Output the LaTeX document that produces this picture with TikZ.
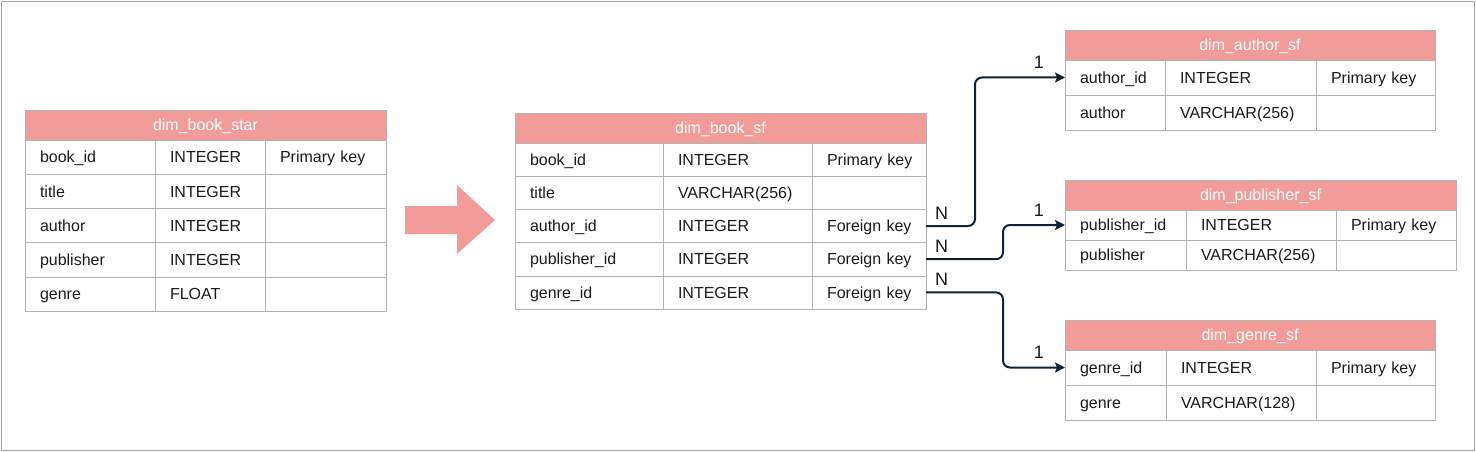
\documentclass[tikz,border=0pt]{standalone}
\usepackage{fontspec}
\setmainfont{Liberation Sans}
\usetikzlibrary{arrows.meta,positioning}
\definecolor{hdrpink}{HTML}{F19C99}
\definecolor{gridgray}{HTML}{B3B3B3}
\definecolor{linknavy}{HTML}{0F2236}
\definecolor{framegray}{HTML}{A6A6A6}
\definecolor{celltext}{HTML}{1A1A1A}

\tikzset{
	tblhead/.style={fill=hdrpink, draw=gridgray, text=white, anchor=north west,
		minimum height=30pt, inner sep=0pt, outer sep=0pt, text height=11.5pt, text depth=0pt},
	tblcell/.style={draw=gridgray, text=celltext, anchor=north west, align=left,
		inner xsep=15pt, inner ysep=0pt, outer sep=0pt, text height=11.5pt, text depth=0pt},
	link/.style={draw=linknavy, line width=2pt, rounded corners=7pt,
		-{Stealth[length=10pt,width=10pt,inset=2pt]}},
	card/.style={text=celltext, inner sep=0pt, font=\fontsize{18}{21}\selectfont},
}

\begin{document}
\begin{tikzpicture}[x=1pt, y=-1pt, font=\fontsize{16}{19}\selectfont]
	\useasboundingbox (0,0) rectangle (1476,452);
	\draw[framegray] (1,1) rectangle (1474,450);

	% star schema table
	\node[tblhead, minimum width=361pt] (star) at (25,110) {dim\_book\_star};
	\foreach \a/\b/\c [count=\i] in {book\_id/INTEGER/Primary key, title/INTEGER/{}, author/INTEGER/{}, publisher/INTEGER/{}, genre/FLOAT/{}} {
		\node[tblcell, text width=100pt, minimum height=34.2pt] (star-\i-a) at (25,{140+(\i-1)*34.2}) {\a};
		\node[tblcell, text width=80pt, minimum height=34.2pt, right=0pt of star-\i-a] (star-\i-b) {\b};
		\node[tblcell, text width=91pt, minimum height=34.2pt, right=0pt of star-\i-b] (star-\i-c) {\mbox{\c}};
	}

	% fat arrow
	\fill[hdrpink] (405,206) -- (457,206) -- (457,185) -- (495,220) -- (457,254) -- (457,234) -- (405,234) -- cycle;

	% snowflake fact table
	\node[tblhead, minimum width=411pt] (sf) at (515,113) {dim\_book\_sf};
	\foreach \a/\b/\c [count=\i] in {book\_id/INTEGER/Primary key, title/VARCHAR(256)/{}, author\_id/INTEGER/Foreign key, publisher\_id/INTEGER/Foreign key, genre\_id/INTEGER/Foreign key} {
		\node[tblcell, text width=118pt, minimum height=33.2pt] (sf-\i-a) at (515,{143+(\i-1)*33.2}) {\a};
		\node[tblcell, text width=119pt, minimum height=33.2pt, right=0pt of sf-\i-a] (sf-\i-b) {\b};
		\node[tblcell, text width=84pt, minimum height=33.2pt, right=0pt of sf-\i-b] (sf-\i-c) {\mbox{\c}};
	}

	% dimension tables
	\node[tblhead, minimum width=370pt] (auth) at (1065,30) {dim\_author\_sf};
	\foreach \a/\b/\c [count=\i] in {author\_id/INTEGER/Primary key, author/VARCHAR(256)/{}} {
		\node[tblcell, text width=70pt, minimum height=35pt] (auth-\i-a) at (1065,{60+(\i-1)*35}) {\a};
		\node[tblcell, text width=121pt, minimum height=35pt, right=0pt of auth-\i-a] (auth-\i-b) {\b};
		\node[tblcell, text width=89pt, minimum height=35pt, right=0pt of auth-\i-b] (auth-\i-c) {\mbox{\c}};
	}

	\node[tblhead, minimum width=391pt] (pub) at (1065,180) {dim\_publisher\_sf};
	\foreach \a/\b/\c [count=\i] in {publisher\_id/INTEGER/Primary key, publisher/VARCHAR(256)/{}} {
		\node[tblcell, text width=91pt, minimum height=30pt] (pub-\i-a) at (1065,{210+(\i-1)*30}) {\a};
		\node[tblcell, text width=120pt, minimum height=30pt, right=0pt of pub-\i-a] (pub-\i-b) {\b};
		\node[tblcell, text width=90pt, minimum height=30pt, right=0pt of pub-\i-b] (pub-\i-c) {\mbox{\c}};
	}

	\node[tblhead, minimum width=370pt] (genre) at (1065,320) {dim\_genre\_sf};
	\foreach \a/\b/\c [count=\i] in {genre\_id/INTEGER/Primary key, genre/VARCHAR(128)/{}} {
		\node[tblcell, text width=71pt, minimum height=35pt] (genre-\i-a) at (1065,{350+(\i-1)*35}) {\a};
		\node[tblcell, text width=120pt, minimum height=35pt, right=0pt of genre-\i-a] (genre-\i-b) {\b};
		\node[tblcell, text width=89pt, minimum height=35pt, right=0pt of genre-\i-b] (genre-\i-c) {\mbox{\c}};
	}

	% relations
	\draw[link] (sf-3-c.east) node[card, anchor=base west, xshift=8pt, yshift=7pt] (n-auth) {N}
		-- ++(49,0) |- (auth-1-a.west) node[card, anchor=base east, xshift=-20pt, yshift=9pt] (one-auth) {1};
	\draw[link] (sf-4-c.east) node[card, anchor=base west, xshift=8pt, yshift=7pt] (n-pub) {N}
		-- ++(77,0) |- (pub-1-a.west) node[card, anchor=base east, xshift=-20pt, yshift=9pt] (one-pub) {1};
	\draw[link] (sf-5-c.east) node[card, anchor=base west, xshift=8pt, yshift=7pt] (n-genre) {N}
		-- ++(77,0) |- (genre-1-a.west) node[card, anchor=base east, xshift=-20pt, yshift=9pt] (one-genre) {1};
\end{tikzpicture}
\end{document}
